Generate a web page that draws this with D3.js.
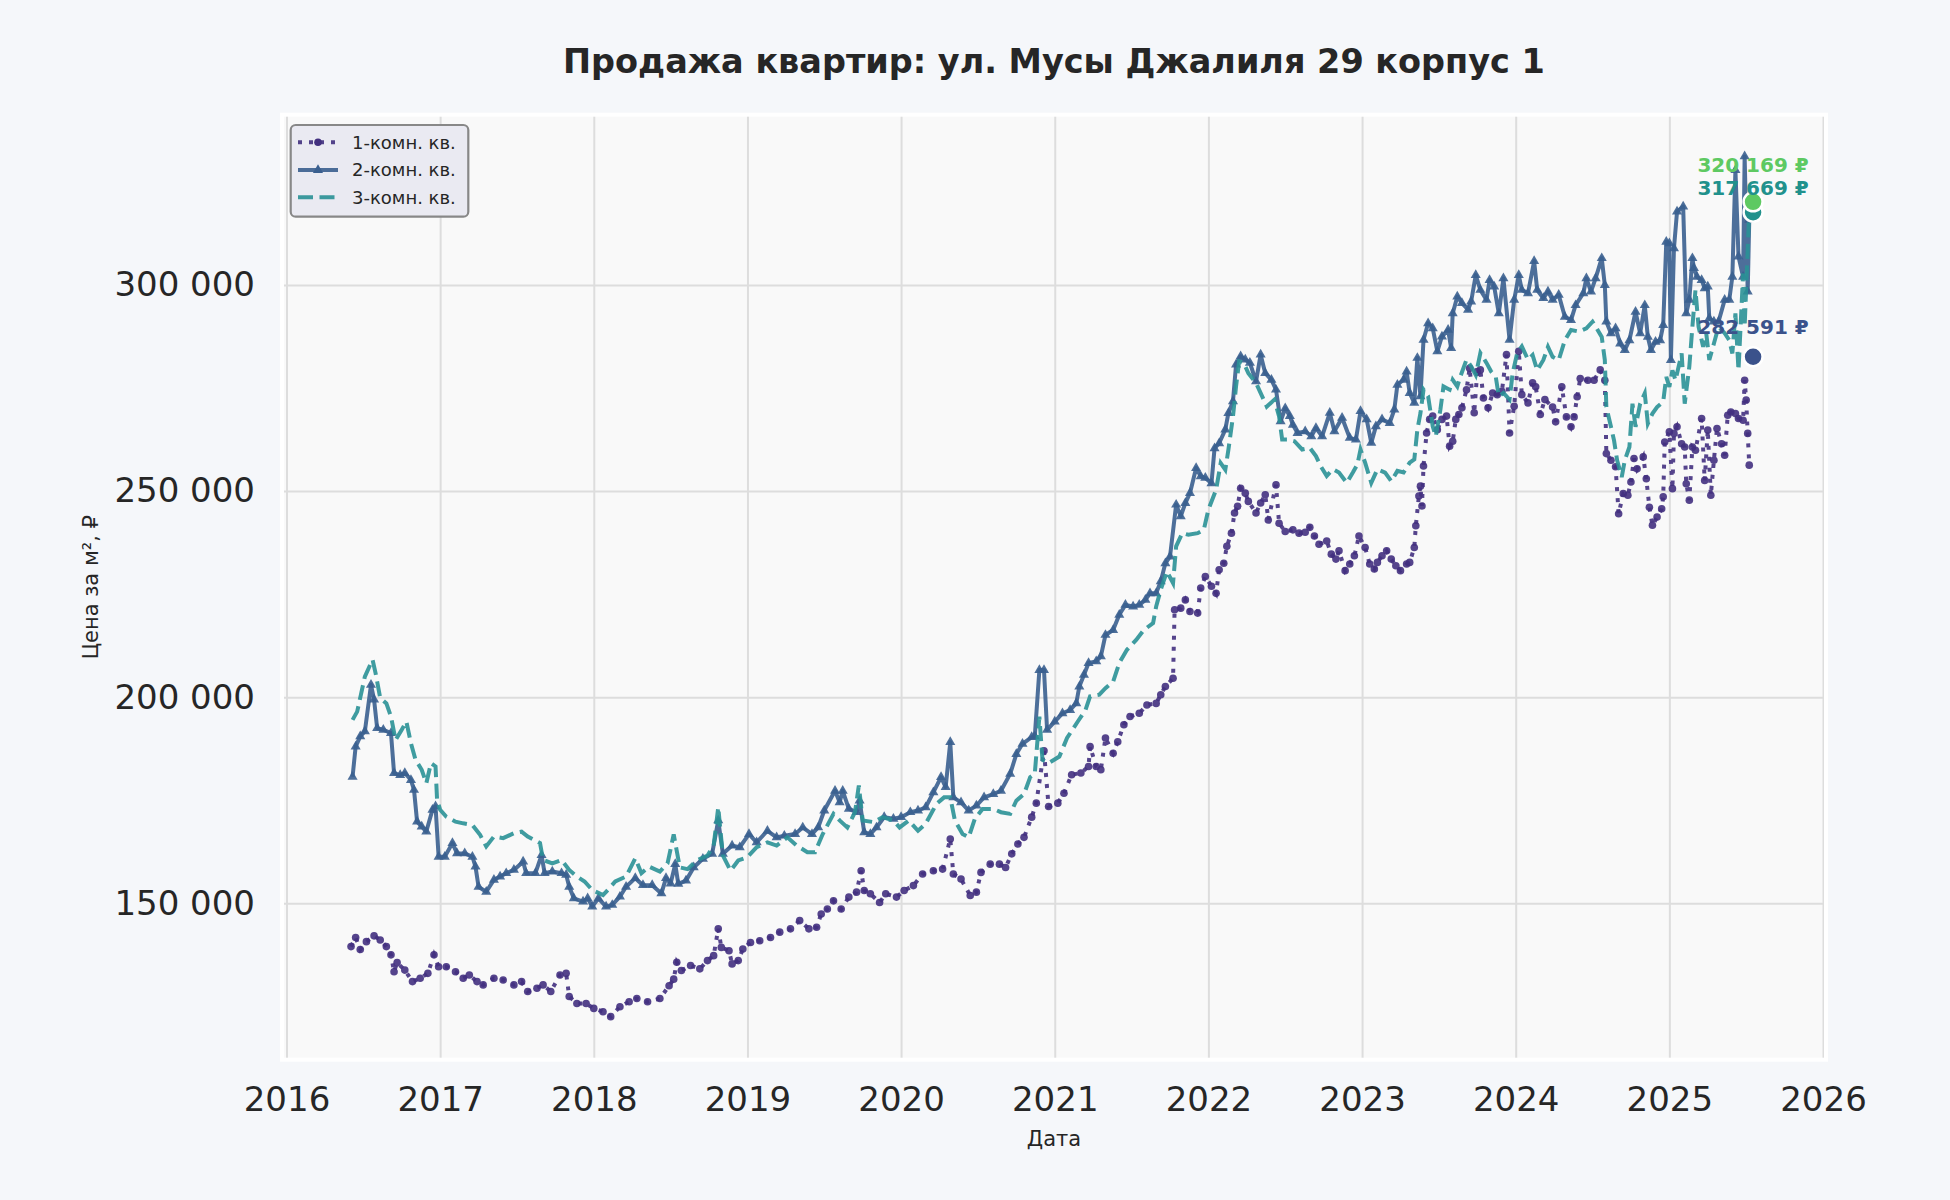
<!DOCTYPE html>
<html>
<head>
<meta charset="utf-8">
<script src="https://cdn.jsdelivr.net/npm/d3@7"></script>
<style>
  body { margin: 0; background: #f5f7fa; }
  svg { display: block; font-family: "DejaVu Sans", sans-serif; }
</style>
</head>
<body>
<svg id="chart" width="1950" height="1200"></svg>
<script>
// ---------------- DATA ----------------
const titleText = "Продажа квартир: ул. Мусы Джалиля 29 корпус 1";
const xLabelText = "Дата";
const yLabelText = "Цена за м², ₽";
const seriesNames = ["1-комн. кв.", "2-комн. кв.", "3-комн. кв."];
const xTickYears = [2016, 2017, 2018, 2019, 2020, 2021, 2022, 2023, 2024, 2025, 2026];
const yTickValues = [150000, 200000, 250000, 300000];

// 1-room (decimal year, ₽ per m²)
const r1Dates = [2016.42,2016.45,2016.48,2016.52,2016.57,2016.61,2016.65,2016.68,2016.70,2016.72,2016.77,2016.82,2016.87,2016.92,2016.96,2016.99,
2017.04,2017.10,2017.15,2017.19,2017.24,2017.28,2017.35,2017.41,2017.48,2017.53,2017.57,2017.63,2017.67,2017.72,2017.78,2017.82,2017.84,2017.89,2017.95,
2018.00,2018.06,2018.11,2018.17,2018.23,2018.28,2018.35,2018.43,2018.49,2018.52,2018.54,2018.57,2018.63,2018.69,2018.74,2018.78,2018.81,2018.83,2018.88,2018.90,2018.94,2018.97,
2019.02,2019.08,2019.15,2019.21,2019.28,2019.34,2019.40,2019.45,2019.48,2019.52,2019.56,2019.61,2019.66,2019.71,2019.74,2019.76,2019.80,2019.86,2019.90,2019.97,
2020.02,2020.08,2020.14,2020.21,2020.27,2020.32,2020.34,2020.39,2020.45,2020.49,2020.52,2020.58,2020.64,2020.68,2020.72,2020.76,2020.80,2020.85,2020.88,2020.93,2020.96,
2021.02,2021.06,2021.11,2021.17,2021.22,2021.23,2021.27,2021.30,2021.33,2021.38,2021.41,2021.45,2021.49,2021.55,2021.60,2021.66,2021.69,2021.72,2021.77,2021.78,2021.82,2021.85,2021.88,2021.93,2021.95,2021.98,
2022.02,2022.05,2022.07,2022.10,2022.12,2022.15,2022.17,2022.19,2022.21,2022.24,2022.26,2022.31,2022.34,2022.37,2022.39,2022.44,2022.46,2022.50,2022.55,2022.59,2022.63,2022.66,2022.69,2022.72,2022.77,2022.80,2022.83,2022.85,2022.89,2022.92,2022.95,2022.98,
2023.02,2023.05,2023.08,2023.10,2023.13,2023.16,2023.19,2023.22,2023.25,2023.29,2023.31,2023.34,2023.35,2023.37,2023.38,2023.39,2023.40,2023.42,2023.44,2023.46,2023.49,2023.52,2023.55,2023.57,2023.59,2023.61,2023.63,2023.65,2023.68,2023.70,2023.73,2023.75,2023.77,2023.79,2023.82,2023.85,2023.88,2023.91,2023.94,2023.96,2023.99,
2024.02,2024.04,2024.08,2024.11,2024.13,2024.16,2024.19,2024.24,2024.26,2024.30,2024.33,2024.36,2024.38,2024.40,2024.42,2024.47,2024.51,2024.55,2024.58,2024.59,2024.62,2024.65,2024.67,2024.70,2024.73,2024.75,2024.77,2024.79,2024.83,2024.85,2024.87,2024.89,2024.92,2024.95,2024.96,2024.97,
2025.00,2025.02,2025.03,2025.05,2025.08,2025.10,2025.11,2025.13,2025.15,2025.17,2025.21,2025.23,2025.25,2025.27,2025.29,2025.31,2025.34,2025.36,2025.38,2025.40,2025.43,2025.45,2025.48,2025.49,2025.50,2025.51,2025.52];
const r1Values = [139500,141700,138800,140700,142100,141100,139500,137500,133400,135600,133800,131000,131800,133000,137500,134600,
134600,133400,131800,132600,131000,130200,131800,131400,130200,131000,128600,129400,130200,128600,132600,133000,127400,125700,125700,
124500,123700,122500,124900,126100,126900,126100,126900,130000,131600,135700,133700,134900,134100,136100,137300,143800,139300,138500,135300,136100,138900,
140500,140900,141700,143000,143800,145800,143800,144200,147400,148600,150600,148600,151500,152700,157900,153100,152300,150200,152300,151500,
153100,154300,157100,157900,158300,165600,157100,155900,151900,152700,157500,159500,159500,158700,162000,164400,166000,170900,174300,187000,173500,
174300,176700,181200,181600,183200,188000,183200,182400,190100,186400,189200,193300,195300,196100,198100,198500,200600,202600,204600,221200,221600,223600,220800,220400,226500,229300,
226900,225200,230900,232500,236600,239800,244700,246300,250700,249500,247500,244700,247100,249100,243000,251500,242200,240200,240600,239800,240000,241200,239100,237100,237900,234700,233500,235500,230700,232300,234300,239100,
236300,232300,231100,232700,234300,235500,233500,231900,230700,232300,232700,236300,241600,248800,251200,246400,256100,264100,267400,268200,264900,267400,268200,260900,262100,267400,268600,270200,274600,279800,269000,279000,279400,272600,270200,273800,273400,274200,283100,264100,270600,
283900,273400,271400,276300,275300,268600,272200,270400,266800,275300,268000,265600,268000,272900,277300,276900,276900,279400,276900,259100,257500,255900,244500,249400,249000,252200,257900,255400,258300,253000,246100,241700,243700,245700,248600,261900,
264400,250600,264000,265600,261500,260700,251800,247800,260700,259900,267600,252600,264800,249000,257500,265200,261500,258700,268400,269200,268800,267600,267200,276900,272100,264000,256300];

// 2-room
const r2Dates = [2016.43,2016.45,2016.48,2016.51,2016.55,2016.57,2016.59,2016.63,2016.68,2016.70,2016.74,2016.77,2016.81,2016.83,2016.85,2016.88,2016.91,2016.95,2016.97,2016.99,
2017.03,2017.08,2017.11,2017.16,2017.21,2017.23,2017.25,2017.30,2017.35,2017.39,2017.43,2017.48,2017.54,2017.56,2017.62,2017.66,2017.68,2017.73,2017.79,2017.82,2017.84,2017.87,2017.93,2017.96,2017.99,
2018.03,2018.08,2018.12,2018.17,2018.21,2018.27,2018.32,2018.38,2018.44,2018.47,2018.50,2018.53,2018.55,2018.60,2018.65,2018.71,2018.77,2018.81,2018.84,2018.90,2018.95,
2019.01,2019.06,2019.13,2019.19,2019.24,2019.31,2019.36,2019.42,2019.46,2019.50,2019.57,2019.60,2019.62,2019.66,2019.71,2019.73,2019.76,2019.80,2019.84,2019.89,2019.95,
2020.00,2020.06,2020.11,2020.16,2020.21,2020.26,2020.29,2020.32,2020.34,2020.39,2020.44,2020.49,2020.54,2020.60,2020.65,2020.71,2020.75,2020.79,2020.85,2020.87,2020.90,2020.93,2020.95,
2021.00,2021.05,2021.10,2021.14,2021.16,2021.19,2021.22,2021.27,2021.30,2021.33,2021.38,2021.42,2021.46,2021.51,2021.55,2021.59,2021.62,2021.66,2021.69,2021.72,2021.75,2021.79,2021.82,2021.85,2021.88,2021.92,2021.95,2021.98,
2022.02,2022.04,2022.07,2022.11,2022.13,2022.16,2022.18,2022.21,2022.24,2022.27,2022.31,2022.34,2022.37,2022.41,2022.44,2022.47,2022.50,2022.53,2022.55,2022.58,2022.63,2022.67,2022.70,2022.74,2022.79,2022.82,2022.87,2022.92,2022.96,2022.99,
2023.03,2023.06,2023.09,2023.13,2023.18,2023.21,2023.23,2023.27,2023.29,2023.31,2023.34,2023.36,2023.38,2023.40,2023.43,2023.46,2023.49,2023.52,2023.56,2023.58,2023.59,2023.62,2023.65,2023.69,2023.71,2023.74,2023.77,2023.81,2023.83,2023.86,2023.89,2023.92,2023.96,2023.99,
2024.02,2024.04,2024.08,2024.12,2024.14,2024.18,2024.21,2024.24,2024.28,2024.32,2024.36,2024.39,2024.44,2024.46,2024.49,2024.52,2024.56,2024.58,2024.59,2024.62,2024.65,2024.68,2024.71,2024.74,2024.78,2024.81,2024.84,2024.86,2024.88,2024.91,2024.94,2024.96,2024.98,
2025.00,2025.01,2025.03,2025.05,2025.09,2025.11,2025.13,2025.15,2025.16,2025.18,2025.21,2025.23,2025.25,2025.26,2025.29,2025.32,2025.36,2025.39,2025.41,2025.43,2025.45,2025.48,2025.49,2025.51,2025.52];
const r2Values = [180700,188000,190500,191700,203000,199400,192500,192100,191300,181600,181100,181600,179900,177500,169800,168600,167400,172700,173500,161300,
161300,164600,162100,162100,161300,158900,154000,152800,155700,156500,157300,158100,160100,157300,157300,161700,157300,157700,157300,156900,154000,151200,150400,151200,149200,
151200,149200,149600,151600,154000,156100,154400,154400,152400,156100,154800,159500,154700,155500,158700,160800,162000,170100,162000,164000,163600,
166800,164800,167600,166000,166400,166800,168400,166800,168400,172500,177300,174500,177300,172900,172100,174900,167200,166800,168400,170900,170500,
170900,172100,172500,173300,176900,180600,178200,189100,175700,174500,172500,173700,175700,176500,177300,181400,186200,188700,190300,190500,206600,206600,192100,
194100,196100,196900,198500,202600,205400,208300,208700,209900,215100,216300,220000,222400,222000,222400,223600,225200,225200,228100,232500,234100,246700,243900,247100,249500,255600,253600,253200,
251900,260400,261600,264900,268900,271800,280700,282700,281900,281100,276600,283100,278600,277000,274600,266900,270100,268200,266100,264100,264500,263300,265300,263300,269000,264500,267800,262900,262500,269400,
267400,261700,265700,267400,266500,269800,275800,277000,279000,273800,271400,282300,273000,286700,290700,289500,283900,287500,289100,284700,293100,297200,295600,294000,296000,302400,298800,296400,301200,299600,293100,301600,286700,296400,
302400,298800,298000,305800,298800,296800,298400,296400,297600,292300,291500,295100,298000,301600,298400,301600,306500,300000,291100,288300,289500,285800,284200,286600,293500,288300,295100,287400,284200,286200,286600,290300,310500,
310100,281800,308900,317800,319000,293100,296400,306500,304100,302000,301200,299200,299600,291900,291100,291100,296400,296400,302000,327900,306900,302000,331200,298400,315800];

// 3-room
const r3Dates = [2016.43,2016.46,2016.51,2016.56,2016.58,2016.61,2016.65,2016.68,2016.71,2016.75,2016.78,2016.81,2016.84,2016.88,2016.91,2016.94,2016.97,2016.98,
2017.00,2017.04,2017.10,2017.15,2017.21,2017.26,2017.30,2017.35,2017.41,2017.48,2017.53,2017.57,2017.65,2017.67,2017.73,2017.79,2017.84,2017.89,2017.94,2017.99,
2018.06,2018.10,2018.14,2018.21,2018.27,2018.31,2018.36,2018.43,2018.48,2018.52,2018.56,2018.61,2018.67,2018.74,2018.78,2018.81,2018.84,2018.89,2018.94,
2019.00,2019.06,2019.13,2019.19,2019.26,2019.32,2019.39,2019.44,2019.49,2019.56,2019.60,2019.65,2019.70,2019.725,2019.75,2019.82,2019.88,2019.95,2019.99,
2020.05,2020.11,2020.16,2020.23,2020.28,2020.32,2020.35,2020.40,2020.44,2020.48,2020.53,2020.60,2020.65,2020.71,2020.75,2020.80,2020.84,2020.87,2020.90,2020.92,2020.96,
2021.03,2021.08,2021.15,2021.20,2021.23,2021.29,2021.33,2021.38,2021.42,2021.47,2021.53,2021.58,2021.64,2021.66,2021.69,2021.73,2021.77,2021.79,2021.83,2021.87,2021.93,2021.97,
2022.00,2022.05,2022.08,2022.11,2022.13,2022.16,2022.18,2022.20,2022.23,2022.26,2022.31,2022.35,2022.38,2022.43,2022.46,2022.48,2022.52,2022.56,2022.61,2022.66,2022.70,2022.73,2022.77,2022.81,2022.85,2022.90,2022.94,2022.97,2022.99,
2023.02,2023.06,2023.10,2023.15,2023.19,2023.23,2023.27,2023.31,2023.34,2023.36,2023.38,2023.40,2023.43,2023.46,2023.48,2023.51,2023.53,2023.57,2023.59,2023.62,2023.64,2023.68,2023.71,2023.74,2023.77,2023.81,2023.84,2023.87,2023.89,2023.92,2023.96,2023.98,
2024.01,2024.04,2024.08,2024.11,2024.14,2024.18,2024.21,2024.24,2024.28,2024.32,2024.36,2024.41,2024.46,2024.50,2024.52,2024.56,2024.58,2024.59,2024.62,2024.64,2024.66,2024.69,2024.71,2024.74,2024.76,2024.78,2024.81,2024.84,2024.86,2024.89,2024.92,2024.96,2024.98,
2025.00,2025.02,2025.04,2025.08,2025.10,2025.13,2025.15,2025.17,2025.19,2025.22,2025.24,2025.26,2025.29,2025.32,2025.36,2025.39,2025.41,2025.43,2025.45,2025.48,2025.49,2025.51,2025.52];
const r3Values = [194500,196500,205000,209100,205800,199800,198500,195300,189600,192100,194100,188800,184800,182400,179100,184000,183200,175100,
172700,171000,169800,169400,169000,166600,163800,166200,165800,167000,167400,166200,164600,160500,159700,160500,158100,156500,155300,153200,
152000,153600,155300,156500,160900,157300,158900,157700,159700,166700,158700,158300,160400,161600,164000,173300,161600,157900,160400,
161200,163600,164800,164000,166000,164000,162400,162400,166800,171700,170100,168400,172100,178600,170100,169700,170900,170100,168400,
170100,167600,169300,174100,175700,175700,170100,166800,166000,170500,172900,172900,172100,171700,174900,176500,180600,181400,195300,184800,184000,
185600,190100,194100,196900,200200,200600,202200,203800,208300,211500,213900,216300,218000,222000,226100,230500,227700,236600,239800,239400,239800,240600,
245500,250300,256800,255200,260000,268100,275400,281500,281100,278600,276200,273000,270500,272200,268100,262500,262500,262100,260100,260500,258500,256100,253700,255300,254500,252000,254500,256500,260100,
256900,252000,255300,254500,252400,254900,254500,256900,257700,264900,268900,274600,273000,265700,263300,269800,275400,274600,277000,275400,277800,281900,280300,278200,283500,281100,279000,277800,273000,273800,272200,278600,
283500,285100,281900,283000,279300,281800,285000,282600,281800,286600,289100,288700,289500,291100,289900,287400,281800,270400,265600,262300,257500,253400,257500,260700,271200,265600,271200,273700,266400,268800,270400,271700,277700,
275300,279300,276900,283400,271200,280200,289900,298800,289900,285000,288300,281800,285800,289900,288300,286600,283400,293100,279300,302800,289900,308500,318200];

// last-value annotations
const endDate = 2025.545;
const endValues = [317669, 320169, 282591];

// ---------------- STYLE / LAYOUT ----------------
const W = 1950, H = 1200;
const plot = { left: 282, right: 1826, top: 114.7, bottom: 1059.7 };
const seriesColors = ["#42307f", "#3a5f8f", "#2a9196"];
const endColors = ["#21918c", "#5ec962", "#3b528b"];
const endLabelDy = [-17.5, -29.5, -23];
const textColor = "#262626";
const gridColor = "#dddddd";

const svg = d3.select("#chart");
svg.append("rect").attr("width", W).attr("height", H).attr("fill", "#f5f7fa");

const x = d3.scaleLinear().domain([2016, 2026]).range([286.5, 1823]);
const y = d3.scaleLinear().domain([150000, 300000]).range([903.3, 285]);

const ruLocale = d3.formatLocale({ decimal: ",", thousands: " ", grouping: [3], currency: ["", " ₽"] });
const fmtY = ruLocale.format(",d");

// plot background
svg.append("rect")
  .attr("x", plot.left).attr("y", plot.top)
  .attr("width", plot.right - plot.left).attr("height", plot.bottom - plot.top)
  .attr("fill", "#f9f9f9");

// x axis + vertical grid
const gx = svg.append("g")
  .attr("transform", `translate(0,${plot.bottom})`)
  .call(d3.axisBottom(x).tickValues(xTickYears).tickFormat(d3.format("d"))
    .tickSize(-(plot.bottom - plot.top)).tickPadding(27));
gx.select(".domain").remove();
gx.selectAll(".tick line").attr("stroke", gridColor).attr("stroke-width", 2);
gx.selectAll(".tick text").attr("fill", textColor).attr("font-size", 34)
  .attr("font-family", "DejaVu Sans");

// y axis + horizontal grid
const gy = svg.append("g")
  .attr("transform", `translate(${plot.left},0)`)
  .call(d3.axisLeft(y).tickValues(yTickValues).tickFormat(fmtY)
    .tickSize(-(plot.right - plot.left)).tickPadding(27));
gy.select(".domain").remove();
gy.selectAll(".tick line").attr("stroke", gridColor).attr("stroke-width", 2);
gy.selectAll(".tick text").attr("fill", textColor).attr("font-size", 34)
  .attr("font-family", "DejaVu Sans");

// white frame
svg.append("rect")
  .attr("x", plot.left).attr("y", plot.top)
  .attr("width", plot.right - plot.left).attr("height", plot.bottom - plot.top)
  .attr("fill", "none").attr("stroke", "#ffffff").attr("stroke-width", 4);

// series
const mk = (dates, vals) => dates.map((t, i) => ({ t, v: vals[i] }));
const data1 = mk(r1Dates, r1Values);
const data2 = mk(r2Dates, r2Values);
const data3 = mk(r3Dates, r3Values);
const line = d3.line().x(d => x(d.t)).y(d => y(d.v));

const g = svg.append("g");

// 1-room: dotted + circle markers
g.append("path").datum(data1).attr("d", line)
  .attr("fill", "none").attr("stroke", seriesColors[0]).attr("stroke-width", 4)
  .attr("stroke-dasharray", "4,7").attr("opacity", 0.9);
g.append("g").selectAll("circle").data(data1).join("circle")
  .attr("cx", d => x(d.t)).attr("cy", d => y(d.v)).attr("r", 3.8)
  .attr("fill", seriesColors[0]).attr("opacity", 0.9);

// 2-room: solid + triangle markers
g.append("path").datum(data2).attr("d", line)
  .attr("fill", "none").attr("stroke", seriesColors[1]).attr("stroke-width", 4)
  .attr("stroke-linejoin", "round").attr("opacity", 0.9);
const tri = d3.symbol().type(d3.symbolTriangle).size(44);
g.append("g").selectAll("path").data(data2).join("path")
  .attr("d", tri).attr("transform", d => `translate(${x(d.t)},${y(d.v)})`)
  .attr("fill", seriesColors[1]).attr("opacity", 0.9);

// 3-room: dashed
g.append("path").datum(data3).attr("d", line)
  .attr("fill", "none").attr("stroke", seriesColors[2]).attr("stroke-width", 4)
  .attr("stroke-dasharray", "15,6.5").attr("opacity", 0.9);

// end markers + labels
const ends = endValues.map((v, i) => ({ v, c: endColors[i], dy: endLabelDy[i] }));
svg.append("g").selectAll("circle").data(ends).join("circle")
  .attr("cx", x(endDate)).attr("cy", d => y(d.v)).attr("r", 9.5)
  .attr("fill", d => d.c).attr("stroke", "#ffffff").attr("stroke-width", 2.5);
svg.append("g").selectAll("text").data(ends).join("text")
  .attr("x", x(endDate)).attr("y", d => y(d.v) + d.dy)
  .attr("text-anchor", "middle").attr("font-size", 20).attr("font-weight", "bold")
  .attr("fill", d => d.c)
  .text(d => fmtY(d.v) + " ₽");

// legend
const lg = svg.append("g");
lg.append("rect").attr("x", 290.7).attr("y", 125).attr("width", 177.6).attr("height", 91.7)
  .attr("rx", 5).attr("fill", "#eaeaf2").attr("stroke", "#888888").attr("stroke-width", 2.2);
const legRows = [142.3, 170, 197.3];
seriesNames.forEach((name, i) => {
  const ly = legRows[i];
  const ln = lg.append("line").attr("x1", 298).attr("x2", 338).attr("y1", ly).attr("y2", ly)
    .attr("stroke", seriesColors[i]).attr("stroke-width", 4).attr("opacity", 0.9);
  if (i === 0) {
    ln.attr("stroke-dasharray", "4,7");
    lg.append("circle").attr("cx", 318).attr("cy", ly).attr("r", 3.8).attr("fill", seriesColors[0]);
  } else if (i === 1) {
    lg.append("path").attr("d", tri).attr("transform", `translate(318,${ly})`).attr("fill", seriesColors[1]);
  } else {
    ln.attr("stroke-dasharray", "15,6.5");
  }
  lg.append("text").attr("x", 352).attr("y", ly).attr("dy", "0.35em")
    .attr("font-size", 18).attr("fill", textColor).text(name);
});

// title & axis labels
svg.append("text").attr("x", (plot.left + plot.right) / 2).attr("y", 72.7)
  .attr("text-anchor", "middle").attr("font-size", 33.5).attr("font-weight", "bold")
  .attr("fill", textColor).text(titleText);
svg.append("text").attr("x", (plot.left + plot.right) / 2).attr("y", 1146)
  .attr("text-anchor", "middle").attr("font-size", 21).attr("fill", textColor).text(xLabelText);
svg.append("text").attr("transform", `translate(98,${(plot.top + plot.bottom) / 2}) rotate(-90)`)
  .attr("text-anchor", "middle").attr("font-size", 21).attr("fill", textColor).text(yLabelText);
</script>
</body>
</html>
